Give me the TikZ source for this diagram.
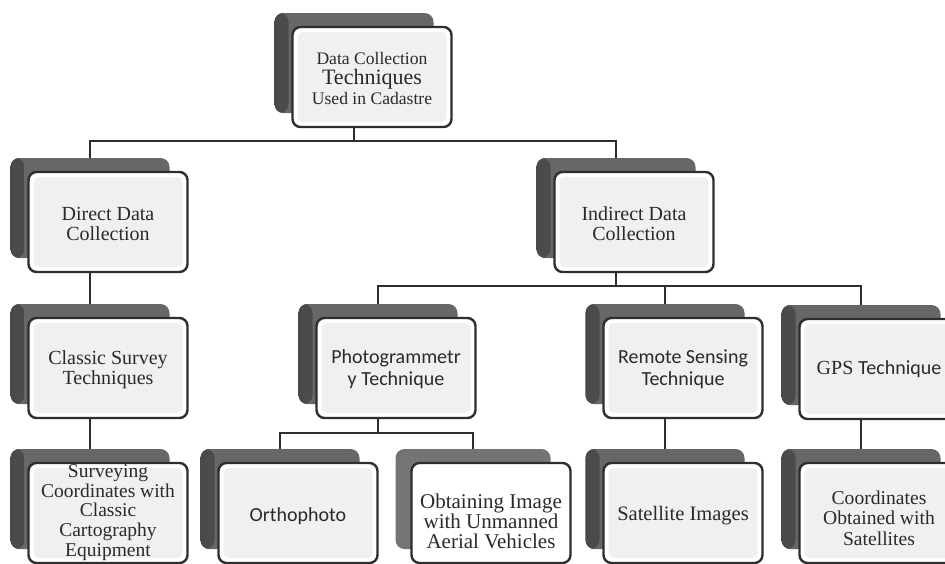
\documentclass[tikz,border=0pt]{standalone}
\usepackage{fontspec}
\setmainfont{Liberation Serif}
\newfontfamily\calfont{Carlito}

\definecolor{edge}{HTML}{2E2E2E}
\definecolor{txt}{HTML}{2A2A2A}
\definecolor{backdark}{HTML}{4A4A4A}
\definecolor{backmid}{HTML}{676767}
\definecolor{backflat}{HTML}{747474}

\tikzset{
  backbox/.style={rounded corners=9pt, minimum width=159pt, minimum height=100pt,
    inner sep=0pt, fill=backmid,
    path picture={\fill[left color=backdark, right color=backmid!90!black]
      (path picture bounding box.north west) rectangle
      ([xshift=14pt]path picture bounding box.south west);}},
  plainback/.style={rounded corners=9pt, minimum width=155pt, minimum height=100pt,
    inner sep=0pt, fill=backflat},
  frontbox/.style={rounded corners=8pt, minimum width=159pt, minimum height=100pt,
    inner sep=0pt, draw=edge, line width=2.4pt, fill=white,
    path picture={\fill[gray!12, rounded corners=5pt]
      ([shift={(5pt,-5pt)}]path picture bounding box.north west) rectangle
      ([shift={(-5pt,5pt)}]path picture bounding box.south east);}},
  plainfront/.style={rounded corners=8pt, minimum width=159pt, minimum height=100pt,
    inner sep=0pt, draw=edge, line width=2.4pt, fill=white},
  boxtext/.style={inner sep=0pt, align=center, text=txt,
    font=\fontsize{20}{20}\selectfont},
  sanstext/.style={font=\calfont\fontsize{20}{22}\selectfont},
  link/.style={draw=edge, line width=2pt},
}

% [#1 text style] #2 back style, #3 front style, #4 name, #5 x, #6 y,
% #7 vertical offset of the text, #8 text
\newcommand\tierbox[8][]{%
  \node[#2] (#4b) at ({#5-18},{#6-14}) {};
  \node[#3] (#4) at (#5,#6) {};
  \node[boxtext,#1] (#4t) at (#5,{#6+#7}) {#8};}

\begin{document}
\begin{tikzpicture}[x=1pt, y=-1pt]
  \useasboundingbox (0,0) rectangle (945,563);

  % boxes
  \tierbox{backbox}{frontbox}{top}{372}{77}{1}{%
    {\fontsize{17.6}{20}\selectfont Data Collection}\\
    {\fontsize{22}{20}\selectfont Techniques}\\
    {\fontsize{17.6}{20}\selectfont Used in Cadastre}}
  \tierbox{backbox}{frontbox}{direct}{108}{222}{2}{Direct Data\\Collection}
  \tierbox{backbox}{frontbox}{indirect}{634}{222}{2}{Indirect Data\\Collection}
  \tierbox{backbox}{frontbox}{classic}{108}{368}{2}{Classic Survey\\Techniques}
  \tierbox[sanstext]{backbox}{frontbox}{photo}{396}{368}{1}{Photogrammetr\\y Technique}
  \tierbox[sanstext]{backbox}{frontbox}{remote}{683}{368}{1}{Remote Sensing\\Technique}
  \tierbox{backbox}{frontbox}{gps}{879}{369}{0}{GPS {\calfont Technique}}
  \tierbox[font=\fontsize{19.5}{19.8}\selectfont]{backbox}{frontbox}{survey}{108}{513}{-0.5}%
    {Surveying\\Coordinates with\\Classic\\Cartography\\Equipment}
  \tierbox[sanstext]{backbox}{frontbox}{ortho}{298}{513}{3}{Orthophoto}
  \tierbox[font=\fontsize{21}{20}\selectfont]{plainback}{plainfront}{uav}{491}{513}{8}%
    {Obtaining Image\\with Unmanned\\Aerial Vehicles}
  \tierbox[font=\fontsize{20.5}{20}\selectfont]{backbox}{frontbox}{sat}{683}{513}{3}{Satellite Images}
  \tierbox[font=\fontsize{19.6}{20.5}\selectfont]{backbox}{frontbox}{coord}{879}{513}{5}%
    {Coordinates\\Obtained with\\Satellites}

  % bar levels
  \coordinate (bar1) at (0,141);
  \coordinate (bar2) at (0,286);
  \coordinate (bar3) at (0,433);

  % connectors
  \draw[link] (topb |- top.south) -- (topb |- bar1) -| (directb.north);
  \draw[link] (topb |- top.south) -- (topb |- bar1) -| (indirectb.north);
  \draw[link] (directb |- direct.south) -- (classicb.north);
  \draw[link] (classicb |- classic.south) -- (surveyb.north);
  \draw[link] (indirectb |- indirect.south) -- (indirectb |- bar2) -| (photob.north);
  \draw[link] (indirectb |- indirect.south) -- (indirectb |- bar2) -| (remoteb.north);
  \draw[link] (indirectb |- indirect.south) -- (indirectb |- bar2) -| (gpsb.north);
  \draw[link] (photob |- photo.south) -- (photob |- bar3) -| (orthob.north);
  \draw[link] (photob |- photo.south) -- (photob |- bar3) -| (uavb.north);
  \draw[link] (remoteb |- remote.south) -- (satb.north);
  \draw[link] (gpsb |- gps.south) -- (coordb.north);
\end{tikzpicture}
\end{document}
